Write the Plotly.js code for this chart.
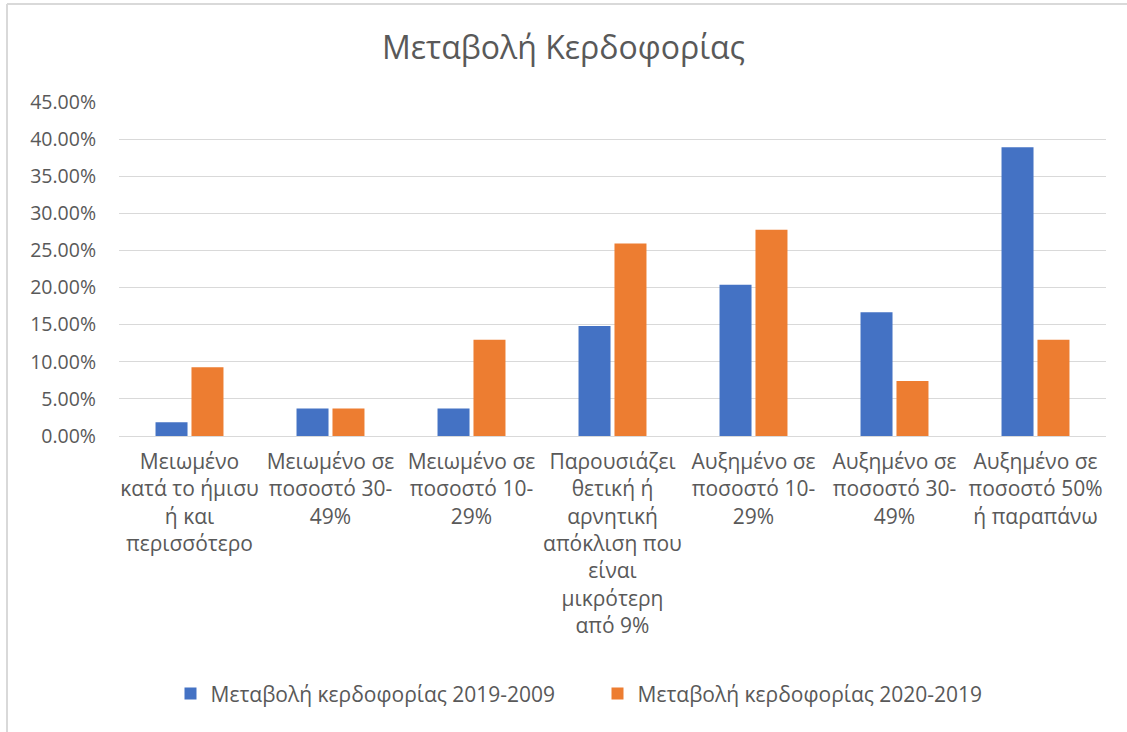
<!DOCTYPE html>
<html>
<head>
<meta charset="utf-8">
<script src="https://cdn.plot.ly/plotly-3.0.1.min.js"></script>
<style>html,body{margin:0;padding:0;background:#fff;}#chart{width:1127px;height:732px;}</style>
</head>
<body>
<div id="chart"></div>
<script>
const categories = [
  "Μειωμένο<br>κατά το ήμισυ<br>ή και<br>περισσότερο",
  "Μειωμένο σε<br>ποσοστό 30-<br>49%",
  "Μειωμένο σε<br>ποσοστό 10-<br>29%",
  "Παρουσιάζει<br>θετική ή<br>αρνητική<br>απόκλιση που<br>είναι<br>μικρότερη<br>από 9%",
  "Αυξημένο σε<br>ποσοστό 10-<br>29%",
  "Αυξημένο σε<br>ποσοστό 30-<br>49%",
  "Αυξημένο σε<br>ποσοστό 50%<br>ή παραπάνω"
];
const series1Name = "Μεταβολή κερδοφορίας 2019-2009";
const series2Name = "Μεταβολή κερδοφορίας 2020-2019";
const series1 = [0.0185, 0.0370, 0.0370, 0.1481, 0.2037, 0.1667, 0.3889];
const series2 = [0.0926, 0.0370, 0.1296, 0.2593, 0.2778, 0.0741, 0.1296];
const titleText = "Μεταβολή Κερδοφορίας";

const font = "'Open Sans', 'Noto Sans', sans-serif";
const textColor = "#595959";

const data = [
  {type: "bar", name: series1Name, x: categories, y: series1, marker: {color: "#4472C4"}, hoverinfo: "y"},
  {type: "bar", name: series2Name, x: categories, y: series2, marker: {color: "#ED7D31"}, hoverinfo: "y"}
];

const layout = {
  width: 1127, height: 732,
  paper_bgcolor: "#fff", plot_bgcolor: "#fff",
  margin: {l: 119, r: 21, t: 102, b: 296},
  title: {text: titleText, x: 0.5, xanchor: "center", y: 0.935, yanchor: "middle", yref: "container",
          font: {family: font, size: 32, color: textColor}},
  barmode: "group",
  bargap: 0.49,
  bargroupgap: 0.11,
  font: {family: font, color: textColor},
  xaxis: {
    tickfont: {family: font, size: 21, color: textColor},
    showgrid: false, zeroline: false, showline: false, ticks: "", ticklabelstandoff: 11
  },
  yaxis: {
    range: [0, 0.45], dtick: 0.05, tickformat: ".2%",
    showgrid: true, gridcolor: "#D9D9D9", gridwidth: 1,
    zeroline: true, zerolinecolor: "#D9D9D9", zerolinewidth: 1,
    showline: false, ticks: "", ticklabelstandoff: 22,
    tickfont: {family: font, size: 19.5, color: textColor}
  },
  legend: {orientation: "h", x: 0.4848, xanchor: "center", y: -0.772, yanchor: "middle",
           font: {family: font, size: 21, color: textColor}, traceorder: "normal",
           entrywidth: 382, entrywidthmode: "pixels"},
  showlegend: true,
  shapes: [
    {type: "line", xref: "paper", yref: "paper", x0: -112/987, x1: 1 + 21/987, y0: 432/334, y1: 432/334, line: {color: "#D9D9D9", width: 2}},
    {type: "line", xref: "paper", yref: "paper", x0: -112/987, x1: -112/987, y0: 432/334, y1: -296/334, line: {color: "#D9D9D9", width: 2}}
  ]
};

Plotly.newPlot("chart", data, layout, {displayModeBar: false, responsive: false});
</script>
</body>
</html>
